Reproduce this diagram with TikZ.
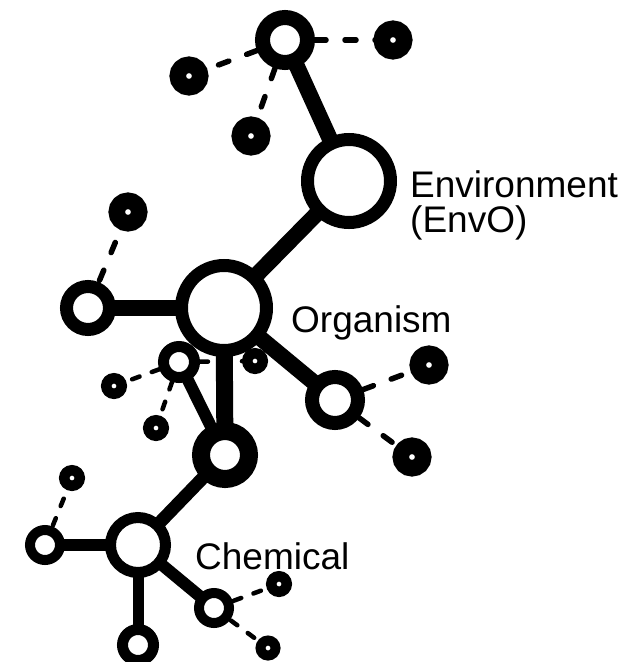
\documentclass[tikz,border=0pt]{standalone}
\usepackage{fontspec}
\setmainfont{Liberation Sans}
\usetikzlibrary{backgrounds}
\begin{document}
\begin{tikzpicture}[x=1pt,y=-1pt,
 ring/.style 2 args={circle,inner sep=0pt,outer sep=0pt,draw=black,fill=white,line width=#2pt-#1pt,minimum size=#1pt+#2pt},
 bond/.style={line width=#1pt,draw=black},
 link/.style={line width=5.5pt,draw=black,dash pattern=on 11pt off 19pt,line cap=round},
 slink/.style={line width=4.5pt,draw=black,dash pattern=on 8pt off 13pt,line cap=round},
 lbl/.style={anchor=base west,inner sep=0pt,font=\fontsize{37}{34}\selectfont}]
\useasboundingbox (0,0) rectangle (628,662);
% main rings
\node[ring={15}{30}] (A) at (285,40) {};
\node[ring={35}{48}] (E) at (349,181) {};
\node[ring={36}{49}] (O) at (224,308) {};
\node[ring={15}{28}] (L) at (88,308) {};
\node[ring={10}{21}] (S) at (179,362) {};
\node[ring={15}{33}] (B) at (225,455) {};
\node[ring={16}{30}] (R) at (335,400) {};
\node[ring={22}{33}] (C) at (138,545) {};
\node[ring={10}{20}] (CL) at (45,545) {};
\node[ring={10}{21}] (CB) at (138,645) {};
\node[ring={10}{20}] (CR) at (214,608) {};
% dots
\node[ring={3}{19.5}] (A1) at (189,76) {};
\node[ring={3}{19.5}] (A2) at (393,40) {};
\node[ring={3}{19.5}] (A3) at (251,136) {};
\node[ring={3}{19.5}] (L1) at (128,212) {};
\node[ring={2.5}{13}] (S1) at (114,386) {};
\node[ring={2.5}{13}] (S2) at (156,428) {};
\node[ring={2.5}{13}] (S3) at (255,361) {};
\node[ring={3}{19.5}] (R1) at (429,365) {};
\node[ring={3}{19.5}] (R2) at (412,457) {};
\node[ring={2.5}{13}] (CL1) at (72,478) {};
\node[ring={2.5}{13}] (CR1) at (279,584) {};
\node[ring={2.5}{12.5}] (CR2) at (268,648) {};
% labels
\node[lbl] (envA) at (410,197) {Environment};
\node[lbl] (envB) at (410,232) {(EnvO)};
\node[lbl] (org) at (291,332) {Organism};
\node[lbl] (chem) at (195,569) {Chemical};
\begin{scope}[on background layer]
\draw[link] (A.center) -- (A1.center);
\draw[link] (A.center) -- (A2.center);
\draw[link] (A.center) -- (A3.center);
\draw[link] (L.center) -- (L1.center);
\draw[link] (R.center) -- (R1.center);
\draw[link] (R.center) -- (R2.center);
\draw[slink] (S.center) -- (S1.center);
\draw[slink] (S.center) -- (S2.center);
\draw[slink] (S.center) -- (S3.center);
\draw[slink] (CL.center) -- (CL1.center);
\draw[slink] (CR.center) -- (CR1.center);
\draw[slink] (CR.center) -- (CR2.center);
\draw[bond=16] (A.center) -- (E.center);
\draw[bond=16] (E.center) -- (O.center);
\draw[bond=16] (L.center) -- (O.center);
\draw[bond=16] (O.center) -- (R.center);
\draw[bond=17] (O.center) -- (B.center);
\draw[bond=12] (S.center) -- (B.center);
\draw[bond=13] (B.center) -- (C.center);
\draw[bond=12] (CL.center) -- (C.center);
\draw[bond=11] (C.center) -- (CB.center);
\draw[bond=12] (C.center) -- (CR.center);
\end{scope}
\end{tikzpicture}
\end{document}
